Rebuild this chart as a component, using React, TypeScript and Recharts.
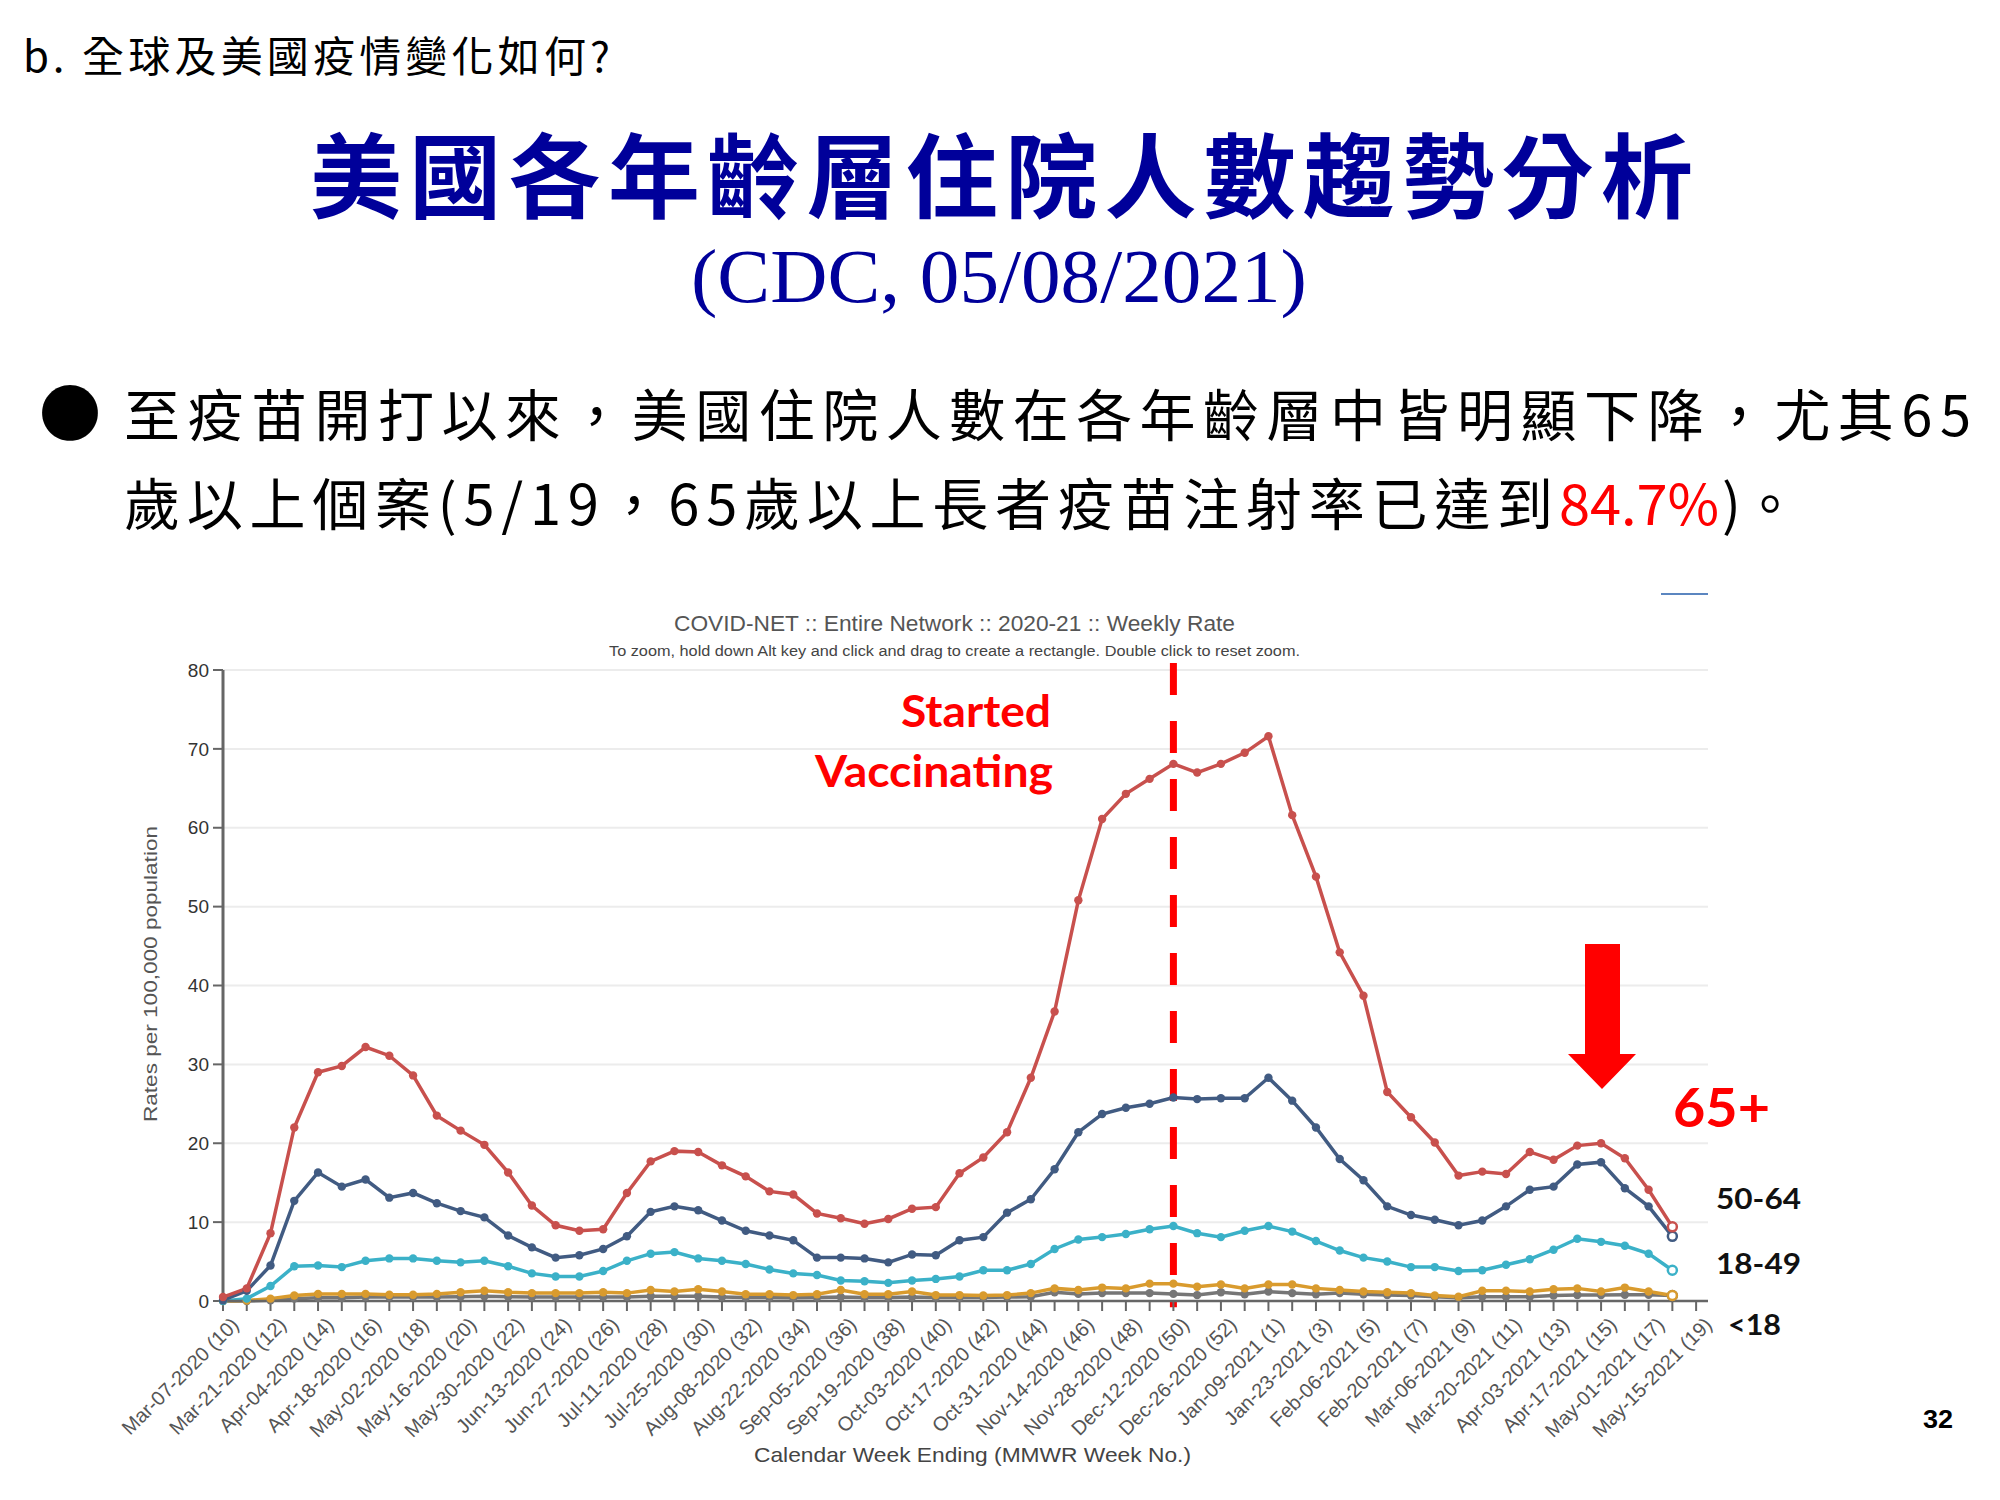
import React from 'react';
import { LineChart, Line, XAxis, YAxis, CartesianGrid, ReferenceLine } from 'recharts';

// MMWR week ending dates, Mar-2020 .. May-2021 (axis runs one week past the data)
const weekLabels = [
  'Mar-07-2020 (10)', 'Mar-14-2020 (11)', 'Mar-21-2020 (12)', 'Mar-28-2020 (13)', 'Apr-04-2020 (14)',
  'Apr-11-2020 (15)', 'Apr-18-2020 (16)', 'Apr-25-2020 (17)', 'May-02-2020 (18)', 'May-09-2020 (19)',
  'May-16-2020 (20)', 'May-23-2020 (21)', 'May-30-2020 (22)', 'Jun-06-2020 (23)', 'Jun-13-2020 (24)',
  'Jun-20-2020 (25)', 'Jun-27-2020 (26)', 'Jul-04-2020 (27)', 'Jul-11-2020 (28)', 'Jul-18-2020 (29)',
  'Jul-25-2020 (30)', 'Aug-01-2020 (31)', 'Aug-08-2020 (32)', 'Aug-15-2020 (33)', 'Aug-22-2020 (34)',
  'Aug-29-2020 (35)', 'Sep-05-2020 (36)', 'Sep-12-2020 (37)', 'Sep-19-2020 (38)', 'Sep-26-2020 (39)',
  'Oct-03-2020 (40)', 'Oct-10-2020 (41)', 'Oct-17-2020 (42)', 'Oct-24-2020 (43)', 'Oct-31-2020 (44)',
  'Nov-07-2020 (45)', 'Nov-14-2020 (46)', 'Nov-21-2020 (47)', 'Nov-28-2020 (48)', 'Dec-05-2020 (49)',
  'Dec-12-2020 (50)', 'Dec-19-2020 (51)', 'Dec-26-2020 (52)', 'Jan-02-2021 (53)', 'Jan-09-2021 (1)',
  'Jan-16-2021 (2)', 'Jan-23-2021 (3)', 'Jan-30-2021 (4)', 'Feb-06-2021 (5)', 'Feb-13-2021 (6)',
  'Feb-20-2021 (7)', 'Feb-27-2021 (8)', 'Mar-06-2021 (9)', 'Mar-13-2021 (10)', 'Mar-20-2021 (11)',
  'Mar-27-2021 (12)', 'Apr-03-2021 (13)', 'Apr-10-2021 (14)', 'Apr-17-2021 (15)', 'Apr-24-2021 (16)',
  'May-01-2021 (17)', 'May-08-2021 (18)', 'May-15-2021 (19)',
];

const rate65plus = [
  0.5, 1.6, 8.6, 22.0, 29.0, 29.8, 32.2, 31.1, 28.6, 23.5,
  21.6, 19.8, 16.3, 12.1, 9.6, 8.9, 9.1, 13.7, 17.7, 19.0,
  18.9, 17.2, 15.8, 13.9, 13.5, 11.1, 10.5, 9.8, 10.4, 11.7,
  11.9, 16.2, 18.2, 21.4, 28.3, 36.7, 50.8, 61.1, 64.3, 66.2,
  68.1, 67.0, 68.1, 69.5, 71.6, 61.6, 53.8, 44.2, 38.7, 26.5,
  23.3, 20.1, 15.9, 16.4, 16.1, 18.9, 17.9, 19.7, 20.0, 18.1,
  14.1, 9.4,
];

const rate50to64 = [
  0.1, 1.3, 4.5, 12.7, 16.3, 14.5, 15.4, 13.1, 13.7, 12.4,
  11.4, 10.6, 8.3, 6.8, 5.5, 5.8, 6.6, 8.2, 11.3, 12.0,
  11.5, 10.2, 8.9, 8.3, 7.7, 5.5, 5.5, 5.4, 4.9, 5.9,
  5.8, 7.7, 8.1, 11.2, 12.9, 16.7, 21.4, 23.7, 24.5, 25.0,
  25.8, 25.6, 25.7, 25.7, 28.3, 25.4, 22.0, 18.0, 15.3, 12.0,
  10.9, 10.3, 9.6, 10.2, 12.0, 14.1, 14.5, 17.3, 17.6, 14.3,
  12.0, 8.2,
];

const rate18to49 = [
  0.0, 0.3, 1.9, 4.4, 4.5, 4.3, 5.1, 5.4, 5.4, 5.1,
  4.9, 5.1, 4.4, 3.5, 3.1, 3.1, 3.8, 5.1, 6.0, 6.2,
  5.4, 5.1, 4.7, 4.0, 3.5, 3.3, 2.6, 2.5, 2.3, 2.6,
  2.8, 3.1, 3.9, 3.9, 4.7, 6.6, 7.8, 8.1, 8.5, 9.1,
  9.5, 8.6, 8.1, 8.9, 9.5, 8.8, 7.6, 6.4, 5.5, 5.0,
  4.3, 4.3, 3.8, 3.9, 4.6, 5.3, 6.5, 7.9, 7.5, 7.0,
  6.0, 3.9,
];

const rate0to4 = [
  0.0, 0.05, 0.3, 0.7, 0.9, 0.9, 0.9, 0.8, 0.8, 0.9,
  1.1, 1.3, 1.1, 1.0, 1.0, 1.0, 1.1, 1.0, 1.4, 1.2,
  1.5, 1.2, 0.85, 0.85, 0.75, 0.85, 1.4, 0.85, 0.85, 1.2,
  0.75, 0.75, 0.7, 0.75, 1.0, 1.6, 1.4, 1.7, 1.6, 2.2,
  2.2, 1.8, 2.1, 1.6, 2.1, 2.1, 1.6, 1.4, 1.2, 1.1,
  1.0, 0.7, 0.55, 1.3, 1.3, 1.2, 1.5, 1.6, 1.2, 1.7,
  1.2, 0.7,
];

const rate5to17 = [
  0.0, 0.0, 0.1, 0.3, 0.4, 0.4, 0.5, 0.5, 0.5, 0.5,
  0.55, 0.6, 0.55, 0.5, 0.5, 0.5, 0.5, 0.5, 0.6, 0.6,
  0.6, 0.5, 0.45, 0.45, 0.4, 0.45, 0.5, 0.45, 0.45, 0.5,
  0.45, 0.45, 0.45, 0.5, 0.55, 1.1, 0.9, 1.0, 1.0, 1.0,
  0.9, 0.75, 1.1, 0.85, 1.2, 1.0, 0.85, 1.0, 0.85, 0.75,
  0.7, 0.55, 0.4, 0.55, 0.55, 0.55, 0.7, 0.75, 0.75, 0.8,
  0.8, 0.7,
];

const yTicks = [0, 10, 20, 30, 40, 50, 60, 70, 80];
const vaccineStartWeek = 'Dec-12-2020 (50)';

const rows = rate65plus.map((v, i) => ({
  i,
  r65: v,
  r50: rate50to64[i],
  r18: rate18to49[i],
  r04: rate0to4[i],
  r517: rate5to17[i],
}));

const weekIdx = weekLabels.map((_, i) => i);
const vaccineIdx = weekLabels.indexOf(vaccineStartWeek);
const lastIdx = rate65plus.length - 1;

const SERIES = [
  { key: 'r517', color: '#767676' },
  { key: 'r04', color: '#d99b2e' },
  { key: 'r18', color: '#3bb1c8' },
  { key: 'r50', color: '#415b82' },
  { key: 'r65', color: '#c8504d' },
];

const SANS = '"Liberation Sans", Arial, sans-serif';
const CJK = '"Noto Sans CJK TC", "Noto Sans CJK SC", sans-serif';
const BOLD = 'Lato, "Open Sans", sans-serif';

const dotFor = (color: string) => (p: any) => {
  const { cx, cy, index } = p;
  if (cx == null || cy == null) return <g key={`d-${index}`} />;
  const last = index === lastIdx;
  return (
    <circle
      key={`d-${index}`}
      cx={cx}
      cy={cy}
      r={last ? 4.5 : 4.2}
      fill={last ? '#ffffff' : color}
      stroke={color}
      strokeWidth={last ? 2.5 : 0}
    />
  );
};

// every week gets a tick mark, every second week a label
const WeekTick = (props: any) => {
  const { x, y, payload } = props;
  const i = payload.value;
  if (i % 2 !== 0) return <g />;
  const ax = x + 17;
  const ay = y + 13;
  return (
    <text
      x={ax}
      y={ay}
      transform={`rotate(-45, ${ax}, ${ay})`}
      textAnchor="end"
      fontSize={20}
      fontFamily={SANS}
      fill="#555"
    >
      {weekLabels[i]}
    </text>
  );
};

export default function App() {
  return (
    <div style={{ position: 'absolute', left: 0, top: 0, width: 2000, height: 1500, background: '#fff', overflow: 'hidden' }}>
      <div style={{ position: 'absolute', left: 0, top: 0 }}>
        <LineChart width={2000} height={1500} data={rows} margin={{ top: 670, right: 292, bottom: 49, left: 163 }}>
          <CartesianGrid vertical={false} stroke="#ececec" strokeWidth={2} />
          <XAxis
            type="number"
            dataKey="i"
            domain={[0, 62.5]}
            ticks={weekIdx}
            interval={0}
            height={150}
            tickSize={10}
            tick={<WeekTick />}
            axisLine={{ stroke: '#666', strokeWidth: 2.5 }}
            tickLine={{ stroke: '#666', strokeWidth: 2 }}
          />
          <YAxis
            domain={[0, 80]}
            ticks={yTicks}
            width={60}
            tickSize={10}
            tickMargin={4}
            axisLine={{ stroke: '#666', strokeWidth: 3 }}
            tickLine={{ stroke: '#666', strokeWidth: 2 }}
            tick={{ fill: '#333', fontSize: 19, fontFamily: SANS }}
          />
          {SERIES.map((s) => (
            <Line
              key={s.key}
              type="linear"
              dataKey={s.key}
              stroke={s.color}
              strokeWidth={3.5}
              dot={dotFor(s.color)}
              activeDot={false}
              isAnimationActive={false}
            />
          ))}
          <ReferenceLine
            segment={[{ x: vaccineIdx, y: 80.9 }, { x: vaccineIdx, y: -0.8 }]}
            stroke="#ff0000"
            strokeWidth={7}
            strokeDasharray="32 26"
            ifOverflow="visible"
          />
        </LineChart>
      </div>

      <svg width={2000} height={1500} style={{ position: 'absolute', left: 0, top: 0, pointerEvents: 'none' }}>
        {/* slide text */}
        <text x={23} y={72} fontSize={42} fontFamily={CJK} fill="#000" textLength={587} lengthAdjust="spacing">
          b. 全球及美國疫情變化如何?
        </text>
        <text x={310} y={211} fontSize={92} fontWeight="bold" fontFamily={CJK} fill="#00009a" textLength={1383} lengthAdjust="spacing">
          美國各年齡層住院人數趨勢分析
        </text>
        <text x={691} y={302} fontSize={77} fontFamily='"Liberation Serif", "Times New Roman", serif' fill="#00009a" textLength={616} lengthAdjust="spacingAndGlyphs">
          (CDC, 05/08/2021)
        </text>
        <text x={39} y={437} fontSize={62} fontFamily={CJK} fill="#000">●</text>
        <text x={124} y={436} fontSize={56} fontFamily={CJK} fill="#000" textLength={1847} lengthAdjust="spacing">
          至疫苗開打以來，美國住院人數在各年齡層中皆明顯下降，尤其65
        </text>
        <text x={124} y={525} fontSize={56} fontFamily={CJK} fill="#000" textLength={1429} lengthAdjust="spacing">
          歲以上個案(5/19，65歲以上長者疫苗注射率已達到
        </text>
        <text x={1559} y={525} fontSize={56} fontFamily={CJK} fill="#ff0000" textLength={160} lengthAdjust="spacing">
          84.7%
        </text>
        <text x={1722} y={525} fontSize={56} fontFamily={CJK} fill="#000" textLength={76} lengthAdjust="spacing">
          )。
        </text>

        {/* chart titles */}
        <text x={674} y={631} fontSize={22} fontFamily={SANS} fill="#555" textLength={561} lengthAdjust="spacingAndGlyphs">
          COVID-NET :: Entire Network :: 2020-21 :: Weekly Rate
        </text>
        <text x={609} y={656} fontSize={14} fontFamily={SANS} fill="#444" textLength={691} lengthAdjust="spacingAndGlyphs">
          To zoom, hold down Alt key and click and drag to create a rectangle. Double click to reset zoom.
        </text>
        <text
          x={150}
          y={974}
          transform="rotate(-90, 150, 974)"
          textAnchor="middle"
          dominantBaseline="central"
          fontSize={19}
          fontFamily={SANS}
          fill="#555"
          textLength={296}
          lengthAdjust="spacingAndGlyphs"
        >
          Rates per 100,000 population
        </text>
        <text x={754} y={1462} fontSize={21} fontFamily={SANS} fill="#444" textLength={437} lengthAdjust="spacingAndGlyphs">
          Calendar Week Ending (MMWR Week No.)
        </text>
        <line x1={1661} y1={594} x2={1708} y2={594} stroke="#5b86c0" strokeWidth={2} />

        {/* annotations */}
        <text x={901} y={727} fontSize={44} fontWeight="bold" fontFamily={BOLD} fill="#ff0000" textLength={150} lengthAdjust="spacingAndGlyphs">
          Started
        </text>
        <text x={815} y={787} fontSize={44} fontWeight="bold" fontFamily={BOLD} fill="#ff0000" textLength={238} lengthAdjust="spacingAndGlyphs">
          Vaccinating
        </text>
        <polygon points="1585,944 1620,944 1620,1054 1636,1054 1602,1089 1568,1054 1585,1054" fill="#ff0000" />
        <text x={1673} y={1127} fontSize={54} fontWeight="bold" fontFamily={BOLD} fill="#ff0000" textLength={97} lengthAdjust="spacingAndGlyphs">
          65+
        </text>
        <text x={1716} y={1209} fontSize={29} fontWeight="bold" fontFamily={BOLD} fill="#111" textLength={85} lengthAdjust="spacingAndGlyphs">
          50-64
        </text>
        <text x={1716} y={1274} fontSize={29} fontWeight="bold" fontFamily={BOLD} fill="#111" textLength={85} lengthAdjust="spacingAndGlyphs">
          18-49
        </text>
        <text x={1728} y={1335} fontSize={29} fontWeight="bold" fontFamily={BOLD} fill="#111" textLength={53} lengthAdjust="spacingAndGlyphs">
          &lt;18
        </text>
        <text x={1923} y={1428} fontSize={25} fontWeight="bold" fontFamily={SANS} fill="#000" textLength={30} lengthAdjust="spacingAndGlyphs">
          32
        </text>
      </svg>
    </div>
  );
}
